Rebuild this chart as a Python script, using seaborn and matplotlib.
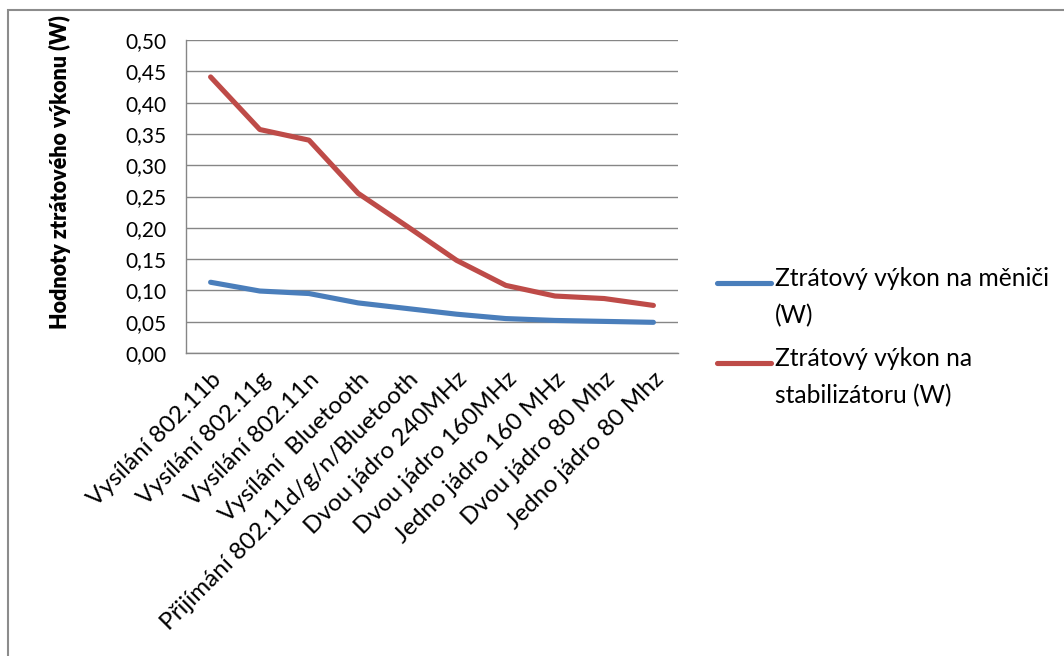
import matplotlib
matplotlib.use("Agg")
import matplotlib.pyplot as plt
from matplotlib.patches import Rectangle
from matplotlib.legend_handler import HandlerLine2D
import pandas as pd
import seaborn as sns

categories = [
    "Vysílání 802.11b",
    "Vysílání 802.11g",
    "Vysílání 802.11n",
    "Vysílání  Bluetooth",
    "Přijímání 802.11d/g/n/Bluetooth",
    "Dvou jádro 240MHz",
    "Dvou jádro 160MHz",
    "Jedno jádro 160 MHz",
    "Dvou jádro 80 Mhz",
    "Jedno jádro 80 Mhz",
]
menic = [0.113, 0.099, 0.095, 0.080, 0.071, 0.062, 0.055, 0.052, 0.0505, 0.049]
stabilizator = [0.441, 0.357, 0.340, 0.255, 0.202, 0.148, 0.108, 0.091, 0.087, 0.076]
series_names = ["Ztrátový výkon na měniči\n(W)", "Ztrátový výkon na\nstabilizátoru (W)"]
yticks = [0.00, 0.05, 0.10, 0.15, 0.20, 0.25, 0.30, 0.35, 0.40, 0.45, 0.50]
ylabel = "Hodnoty ztrátového výkonu (W)"

colors = ["#4A7EBB", "#BE4B48"]
grid_color = "#868686"

sns.set_theme(style="white")
plt.rcParams["font.family"] = ["Lato", "DejaVu Sans"]

df = pd.DataFrame({
    "kategorie": categories * 2,
    "hodnota": menic + stabilizator,
    "serie": [series_names[0]] * len(categories) + [series_names[1]] * len(categories),
})

fig = plt.figure(figsize=(10.64, 6.56), dpi=100)
ax = fig.add_axes([186 / 1064, 1 - 353 / 656, 492 / 1064, 313 / 656])

sns.lineplot(data=df, x="kategorie", y="hodnota", hue="serie", palette=colors,
             sort=False, linewidth=3.7, legend=False, ax=ax)
for ln in ax.get_lines():
    ln.set_solid_capstyle("round")
    ln.set_solid_joinstyle("round")

ax.set_xlim(-0.5, len(categories) - 0.5)
ax.set_ylim(0, 0.5)
ax.set_yticks(yticks)
ax.set_yticklabels([f"{v:.2f}".replace(".", ",") for v in yticks], fontsize=15, color="#000000")
ax.set_xticks(range(len(categories)))
ax.set_xticklabels(categories, rotation=45, ha="right", rotation_mode="anchor",
                   fontsize=17.5, color="#000000")
ax.tick_params(axis="both", length=0)
ax.tick_params(axis="y", pad=14)
ax.tick_params(axis="x", pad=11)
ax.set_xlabel("")
ax.set_ylabel("")

ax.yaxis.grid(True, color=grid_color, linewidth=1.0)
ax.xaxis.grid(False)
ax.set_axisbelow(True)
for side in ["top", "right"]:
    ax.spines[side].set_visible(False)
for side in ["left", "bottom"]:
    ax.spines[side].set_color(grid_color)
    ax.spines[side].set_linewidth(1.0)

fig.text(60 / 1064, 1 - 172 / 656, ylabel, rotation=90, ha="center", va="center",
         fontsize=15.5, fontweight="heavy", color="#000000")

LEG_FS = 17.7


class TopHandler(HandlerLine2D):
    """Line handle placed level with the first line of a two-line label."""

    def create_artists(self, legend, orig_handle, xdescent, ydescent, width, height,
                       fontsize, trans):
        artists = super().create_artists(legend, orig_handle, xdescent, ydescent,
                                         width, height, fontsize, trans)
        for a in artists:
            y = a.get_ydata()
            a.set_ydata([v + 0.62 * fontsize for v in y])
            a.set_solid_capstyle("round")
        return artists


handles = ax.get_lines()[:2]
leg = ax.legend(handles, series_names, loc="upper left",
                bbox_to_anchor=(717 / 1064, 1 - 267 / 656), bbox_transform=fig.transFigure,
                frameon=False, fontsize=LEG_FS, handlelength=2.2, handletextpad=0.15,
                labelspacing=0.82, borderpad=0, borderaxespad=0,
                handler_map={h: TopHandler() for h in handles})
for t in leg.get_texts():
    t.set_linespacing(1.72)
    t.set_color("#000000")

fig.patches.append(Rectangle((8 / 1064, -0.1), 1.0, 1.1 - 10 / 656,
                             transform=fig.transFigure, fill=False,
                             edgecolor="#8c8c8c", linewidth=1.5, figure=fig))

fig.savefig("out.png", dpi=100, facecolor="white")
